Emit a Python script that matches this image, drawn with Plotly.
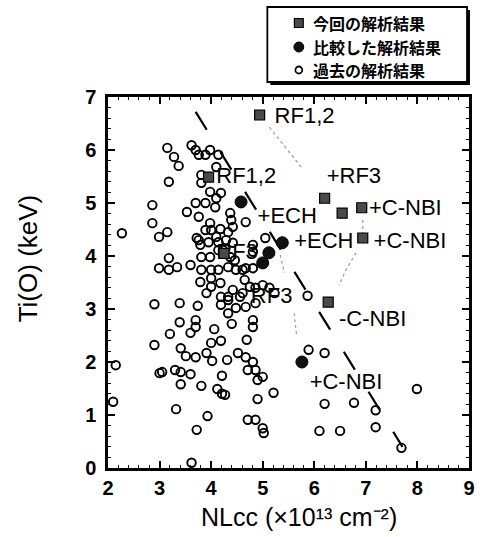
import plotly.graph_objects as go

# ---- data: NLcc (x10^13 cm^-2) vs central ion temperature Ti(0) (keV) ----
past_x = [3.15, 3.28, 3.37, 3.18, 3.62, 3.70, 3.76, 3.89, 3.98, 4.14, 4.10, 3.81, 3.81,
          3.98, 4.19, 4.10, 3.70, 3.89, 4.08, 2.86, 3.53, 3.76, 4.37, 4.39,
          2.86, 2.99, 3.15, 2.27, 3.98, 3.89, 4.00, 4.18, 4.33, 4.42, 4.10, 4.29, 3.76, 3.72,
          3.79, 3.95, 4.14, 4.42, 4.67,
          4.23, 4.37, 4.46, 4.33, 4.48, 4.67, 4.81, 4.81, 4.81, 5.05,
          3.18, 2.99, 3.18, 3.34, 3.60, 3.81, 3.98, 4.14, 3.81, 4.00, 4.00, 3.79, 4.14, 4.61,
          4.00, 4.18, 4.42, 4.33, 4.19, 4.56, 4.65, 4.75, 4.86, 5.00, 5.13, 5.23, 4.61, 5.87, 3.91,
          2.90, 3.39, 3.74, 4.19, 4.33, 4.33, 4.48, 4.67, 4.86,
          3.39, 3.70, 3.70, 3.60, 3.20, 4.06, 4.40, 4.81, 4.81,
          2.90, 3.41, 3.51, 3.70, 4.00, 4.19, 3.91, 4.02, 4.31, 4.52, 4.69, 4.67, 4.81, 5.89, 6.20,
          2.15, 3.00, 3.05, 3.30, 3.41, 3.60, 3.41, 3.81, 4.21, 4.12, 4.21, 4.71, 4.86, 5.00, 4.90,
          5.21, 4.27, 4.90,
          2.10, 3.32, 3.93, 3.72, 4.71, 4.86, 5.00, 5.02, 3.62, 6.20, 6.77, 7.19, 6.10, 6.50, 7.19,
          7.69, 7.99]
past_y = [6.04, 5.87, 5.70, 5.40, 6.09, 6.00, 5.91, 5.91, 6.00, 5.91, 5.68, 5.53, 5.38,
          5.21, 5.19, 5.09, 5.00, 5.00, 4.92, 4.96, 4.83, 4.74, 4.81, 4.68,
          4.62, 4.36, 4.45, 4.43, 4.62, 4.49, 4.49, 4.51, 4.45, 4.55, 4.36, 4.30, 4.30, 4.34,
          4.21, 4.26, 4.26, 4.25, 4.64,
          4.11, 3.98, 3.92, 3.79, 3.74, 3.77, 3.77, 4.21, 4.08, 4.34,
          3.96, 3.77, 3.74, 3.79, 3.83, 3.98, 3.98, 4.11, 3.74, 3.74, 3.58, 3.51, 3.74, 3.74,
          3.42, 3.49, 3.36, 3.23, 3.23, 3.23, 3.55, 3.42, 3.40, 3.45, 3.40, 3.30, 3.30, 3.25, 3.30,
          3.09, 3.11, 3.06, 3.08, 3.17, 2.92, 3.02, 3.04, 3.11,
          2.75, 2.79, 2.66, 2.55, 2.53, 2.62, 2.72, 2.79, 2.66,
          2.32, 2.26, 2.11, 2.09, 2.36, 2.40, 2.17, 2.02, 2.04, 2.17, 2.42, 2.09, 2.00, 2.23, 2.17,
          1.94, 1.79, 1.81, 1.85, 1.81, 1.77, 1.58, 1.55, 1.74, 1.49, 1.40, 1.85, 1.85, 1.72, 1.66,
          1.42, 1.38, 1.30,
          1.25, 1.11, 0.98, 0.72, 0.91, 0.91, 0.75, 0.66, 0.10, 1.21, 1.23, 1.09, 0.70, 0.70, 0.77,
          0.38, 1.49]

cmp_x = [4.58, 5.38, 5.12, 5.00, 5.76]
cmp_y = [5.02, 4.25, 4.06, 3.87, 2.00]

now_x = [4.94, 3.95, 6.20, 6.54, 6.92, 6.94, 6.27, 4.25]
now_y = [6.66, 5.49, 5.09, 4.81, 4.91, 4.34, 3.13, 4.05]

label_text = ["RF1,2", "RF1,2", "+RF3", "+C-NBI", "+C-NBI", "+ECH", "+ECH",
              "RF3", "RF3", "-C-NBI", "+C-NBI"]
label_x = [5.23, 4.10, 6.24, 7.06, 7.15, 4.90, 5.61, 4.10, 4.77, 6.48, 5.91]
label_y = [6.62, 5.49, 5.49, 4.87, 4.25, 4.72, 4.26, 4.04, 3.21, 2.79, 1.60]

# scaling trend line
trend_x = [3.70, 7.71]
trend_y = [6.72, 0.40]

# faint dotted guides between related points
guides = [
    ([5.13, 5.76], [6.43, 5.66]),
    ([6.81, 6.62, 6.48], [4.06, 3.75, 3.45]),
    ([6.94, 6.94], [4.68, 4.40]),
    ([5.34, 5.42], [4.02, 3.68]),
    ([5.61, 5.66], [2.92, 2.47]),
]

legend_labels = ["今回の解析結果", "比較した解析結果", "過去の解析結果"]

# ---- layout geometry (pixels) ----
W, H = 484, 537
L, R, T, B = 108, 9, 97, 69
PW, PH = W - L - R, H - T - B


def pxx(px):
    return (px - L) / PW


def pxy(py):
    return (H - B - py) / PH


fig = go.Figure()

for gx, gy in guides:
    fig.add_trace(go.Scatter(x=gx, y=gy, mode="lines", hoverinfo="skip",
                             line=dict(color="#9a9a9a", width=1.2, dash="dot")))

fig.add_trace(go.Scatter(x=label_x, y=label_y, text=label_text, mode="text",
                         textposition="middle right",
                         textfont=dict(family="Liberation Sans, Arial", size=22, color="black")))

fig.add_trace(go.Scatter(x=trend_x, y=trend_y, mode="lines",
                         line=dict(color="black", width=2.2, dash="21px,26px")))

fig.add_trace(go.Scatter(x=past_x, y=past_y, mode="markers", name=legend_labels[2],
                         marker=dict(symbol="circle-open", size=8.5,
                                     line=dict(color="black", width=1.9), color="black")))

fig.add_trace(go.Scatter(x=cmp_x, y=cmp_y, mode="markers", name=legend_labels[1],
                         marker=dict(symbol="circle", size=12, color="#111",
                                     line=dict(color="black", width=1))))

fig.add_trace(go.Scatter(x=now_x, y=now_y, mode="markers", name=legend_labels[0],
                         marker=dict(symbol="square", size=10, color="#4a4a4a",
                                     line=dict(color="black", width=1.2))))

axis_common = dict(
    showgrid=False, zeroline=False, showline=True, linecolor="black", linewidth=2.5,
    mirror="ticks", ticks="inside", ticklen=7, tickwidth=2, tickcolor="black",
    dtick=1,
    minor=dict(ticks="inside", ticklen=3, tickwidth=1, tickcolor="black", dtick=0.2),
    tickfont=dict(family="Liberation Sans, Arial", size=20, color="black", weight="bold"),
)

fig.update_xaxes(range=[2, 9], tick0=2, ticklabelstandoff=0, **axis_common)
fig.update_yaxes(range=[0, 7], tick0=0, ticklabelstandoff=5, **axis_common)

# legend box with drop shadow, drawn in the top margin
shapes = [
    dict(type="rect", xref="paper", yref="paper", layer="above",
         x0=pxx(273), x1=pxx(476), y0=pxy(85), y1=pxy(10),
         fillcolor="black", line=dict(width=0)),
    dict(type="rect", xref="paper", yref="paper", layer="above",
         x0=pxx(270), x1=pxx(473), y0=pxy(82), y1=pxy(7),
         fillcolor="white", line=dict(color="black", width=1.8)),
    dict(type="rect", xref="paper", yref="paper", layer="above",
         x0=pxx(297.5), x1=pxx(306.5), y0=pxy(27.5), y1=pxy(18.5),
         fillcolor="#4a4a4a", line=dict(color="black", width=1.2)),
    dict(type="circle", xref="paper", yref="paper", layer="above",
         x0=pxx(297), x1=pxx(307), y0=pxy(52), y1=pxy(42),
         fillcolor="#111", line=dict(color="black", width=1)),
    dict(type="circle", xref="paper", yref="paper", layer="above",
         x0=pxx(298.5), x1=pxx(305.5), y0=pxy(73.5), y1=pxy(66.5),
         fillcolor="white", line=dict(color="black", width=1.8)),
]

annotations = []
for txt, py in zip(legend_labels, [23, 47, 70]):
    annotations.append(dict(xref="paper", yref="paper", x=pxx(314), y=pxy(py),
                            xanchor="left", yanchor="middle", showarrow=False, text=txt,
                            font=dict(family="Noto Sans CJK JP", size=16, color="black",
                                      weight="bold")))

annotations.append(dict(xref="paper", yref="paper", x=pxx(27), y=pxy(258),
                        xanchor="center", yanchor="middle", showarrow=False, textangle=-90,
                        text="Ti(O) (keV)",
                        font=dict(family="Liberation Sans, Arial", size=26, color="black")))
annotations.append(dict(xref="paper", yref="paper", x=pxx(302), y=pxy(517),
                        xanchor="center", yanchor="middle", showarrow=False,
                        text="NLcc (×10¹³ cm⁻²)",
                        font=dict(family="Liberation Sans, Arial", size=25, color="black")))

fig.update_layout(
    width=W, height=H,
    margin=dict(l=L, r=R, t=T, b=B),
    paper_bgcolor="white", plot_bgcolor="white",
    showlegend=False,
    shapes=shapes, annotations=annotations,
)

fig.write_html("out.html")
